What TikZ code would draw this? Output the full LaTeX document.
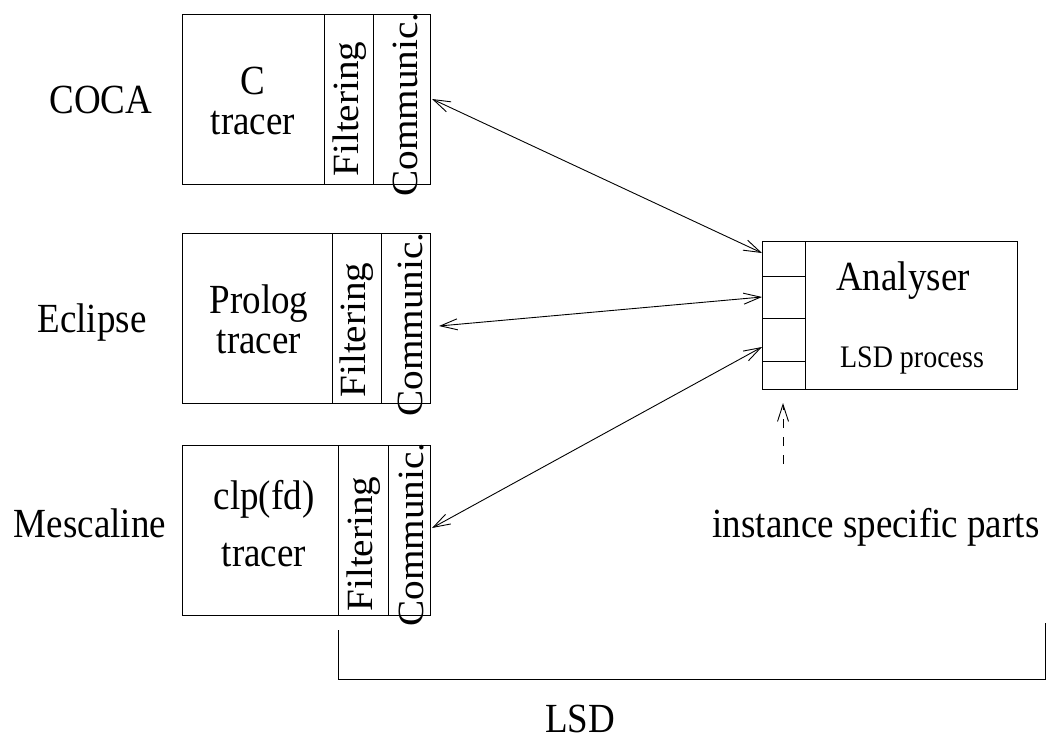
\documentclass[tikz,border=0pt]{standalone}
\usepackage{fontspec}
\setmainfont{Liberation Serif}
\usetikzlibrary{arrows.meta}
\begin{document}
\begin{tikzpicture}[x=1pt,y=-1pt,
  line width=0.9pt,
  lbl/.style={inner sep=0pt,yscale=1.12,anchor=base,font=\fontsize{37}{44}\selectfont},
  two/.style={inner sep=0pt,yscale=1.12,anchor=center,align=center,font=\fontsize{37}{#1}\selectfont},
  small/.style={inner sep=0pt,yscale=1.12,anchor=base,font=\fontsize{28}{32}\selectfont},
  rot/.style={inner sep=0pt,yscale=1.06,rotate=90,anchor=base west,font=\fontsize{37}{44}\selectfont},
  biarrow/.style={{Straight Barb[length=17pt,width=11pt]}-{Straight Barb[length=17pt,width=11pt]}},
  uparrow/.style={-{Straight Barb[length=17pt,width=11pt]},dash pattern=on 9pt off 9pt}]
\useasboundingbox (0,0) rectangle (1051,753);
% tracer boxes
\draw (182,14) rectangle (430,184);
\draw (324,14) -- (324,184) (373,14) -- (373,184);
\draw (182,233) rectangle (430,403);
\draw (332,233) -- (332,403) (381,233) -- (381,403);
\draw (182,445) rectangle (430,615);
\draw (338,445) -- (338,615) (388,445) -- (388,615);
% box 1
\node[two=36] (c1) at (253,101) {C\\tracer};
\node[rot] (f1) at (358,177) {Filtering};
\node[rot] (m1) at (417,197) {Communic.};
% box 2
\node[two=36] (c2) at (259,319) {Prolog\\tracer};
\node[rot] (f2) at (365,398) {Filtering};
\node[rot] (m2) at (422,417) {Communic.};
% box 3
\node[two=50.9] (c3) at (264,524) {clp(fd)\\tracer};
\node[rot] (f3) at (372,612) {Filtering};
\node[rot] (m3) at (423,627) {Communic.};
% left labels
\node[lbl] (coca) at (101,113) {COCA};
\node[lbl] (ecl) at (92,332) {Eclipse};
\node[lbl] (mes) at (90,537) {Mescaline};
% analyser
\draw (762,241) rectangle (1017,389);
\draw (805,241) -- (805,389);
\draw (762,276) -- (805,276) (762,318) -- (805,318) (762,361) -- (805,361);
\node[lbl] (an) at (903,290) {Analyser};
\node[small] (lp) at (912,367) {LSD process};
% arrows
\coordinate (p1) at (432,99);
\coordinate (q1) at (762,253);
\coordinate (p2) at (439,326);
\coordinate (q2) at (762,297);
\coordinate (p3) at (432,528);
\coordinate (q3) at (762,347);
\draw[biarrow] (p1) -- (q1);
\draw[biarrow] (p2) -- (q2);
\draw[biarrow] (p3) -- (q3);
% instance specific
\node[lbl] (inst) at (876,537) {instance specific parts};
\coordinate (d0) at (783,464);
\coordinate (d1) at (783,403);
\draw[uparrow] (d0) -- (d1);
% bracket
\coordinate (b0) at (338,630);
\coordinate (b1) at (338,679);
\coordinate (b2) at (1045,679);
\coordinate (b3) at (1045,623);
\draw (b0) -- (b1) -- (b2) -- (b3);
\node[lbl] (lsd) at (580,732) {LSD};
\end{tikzpicture}
\end{document}
